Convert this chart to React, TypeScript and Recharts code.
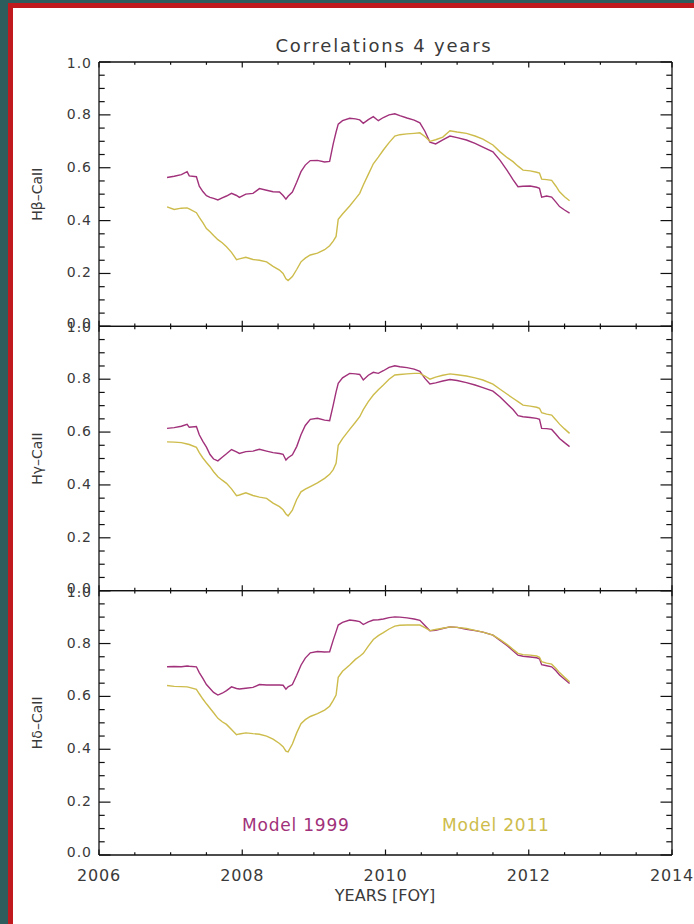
import React from 'react';
import { LineChart, Line, XAxis, YAxis } from 'recharts';

// sampling times (years) shared by all six curves
const years = [
  2006.95, 2007.05, 2007.15, 2007.23, 2007.26, 2007.36, 2007.4, 2007.45, 2007.5, 2007.55,
  2007.6, 2007.66, 2007.72, 2007.78, 2007.85, 2007.92, 2007.96, 2008.05, 2008.15, 2008.24,
  2008.34, 2008.43, 2008.52, 2008.57, 2008.61, 2008.64, 2008.7, 2008.76, 2008.82, 2008.88,
  2008.95, 2009.05, 2009.15, 2009.22, 2009.27, 2009.31, 2009.34, 2009.4, 2009.5, 2009.58,
  2009.64, 2009.69, 2009.76, 2009.83, 2009.9, 2009.97, 2010.05, 2010.13, 2010.2, 2010.3,
  2010.4, 2010.48, 2010.55, 2010.62, 2010.7, 2010.8, 2010.9, 2011.0, 2011.13, 2011.25,
  2011.36, 2011.5, 2011.6, 2011.7, 2011.78, 2011.85, 2011.92, 2012.02, 2012.11, 2012.15,
  2012.18, 2012.25, 2012.32, 2012.38, 2012.43, 2012.5, 2012.57,
];

const hbeta1999 = [
  0.563, 0.568, 0.574, 0.585, 0.569, 0.566, 0.53, 0.51, 0.494, 0.488,
  0.484, 0.478, 0.486, 0.493, 0.503, 0.495, 0.488, 0.5, 0.503, 0.521,
  0.515, 0.509, 0.508, 0.495, 0.481, 0.492, 0.508, 0.545, 0.585, 0.61,
  0.627, 0.628, 0.622, 0.624, 0.69, 0.735, 0.765, 0.778, 0.787, 0.785,
  0.781, 0.768, 0.782, 0.793, 0.778, 0.79, 0.8, 0.804, 0.797, 0.788,
  0.78, 0.77, 0.738, 0.697, 0.69, 0.705, 0.72, 0.714, 0.705, 0.692,
  0.678, 0.66, 0.628, 0.589, 0.555, 0.528, 0.53, 0.531, 0.526, 0.522,
  0.489, 0.493, 0.489, 0.47, 0.453, 0.44, 0.428,
];
const hbeta2011 = [
  0.452, 0.442, 0.447, 0.448, 0.444, 0.43, 0.412, 0.392, 0.37, 0.358,
  0.344, 0.328, 0.316, 0.301, 0.28, 0.252, 0.255, 0.261, 0.253, 0.25,
  0.244, 0.227, 0.213, 0.2, 0.18, 0.173, 0.188, 0.215, 0.244, 0.258,
  0.27, 0.277, 0.29, 0.305, 0.322, 0.34, 0.405, 0.425, 0.455, 0.482,
  0.503, 0.535, 0.575, 0.615, 0.64, 0.667, 0.695, 0.72, 0.725, 0.728,
  0.73, 0.732, 0.718, 0.7, 0.706, 0.716, 0.74, 0.735, 0.73, 0.72,
  0.708, 0.686, 0.66, 0.638, 0.623, 0.606, 0.591, 0.588, 0.583, 0.58,
  0.557, 0.555, 0.552, 0.53, 0.509, 0.49, 0.475,
];
const hgamma1999 = [
  0.614, 0.617, 0.622, 0.629, 0.618, 0.621, 0.59, 0.565, 0.543, 0.515,
  0.498, 0.491, 0.505, 0.518, 0.534, 0.525, 0.519, 0.526, 0.528, 0.535,
  0.528, 0.522, 0.519, 0.516, 0.494, 0.503, 0.514, 0.545, 0.59, 0.625,
  0.648, 0.652, 0.645, 0.643, 0.702, 0.752, 0.784, 0.805, 0.822, 0.82,
  0.818, 0.797, 0.815, 0.826, 0.822, 0.832, 0.845, 0.851, 0.847, 0.844,
  0.838, 0.83, 0.803, 0.782, 0.786, 0.793, 0.799, 0.795, 0.787, 0.778,
  0.768, 0.755, 0.733, 0.706, 0.685, 0.662, 0.658, 0.655, 0.652, 0.648,
  0.614, 0.613, 0.61, 0.592, 0.576, 0.56, 0.545,
];
const hgamma2011 = [
  0.563, 0.562, 0.56, 0.555, 0.553, 0.542, 0.522, 0.502, 0.485, 0.469,
  0.45, 0.431, 0.418, 0.406, 0.385, 0.359, 0.362, 0.37, 0.36, 0.354,
  0.349, 0.331, 0.318, 0.306, 0.29, 0.283, 0.305, 0.345, 0.374, 0.384,
  0.394, 0.408, 0.425, 0.44, 0.458, 0.482, 0.55, 0.575, 0.61, 0.637,
  0.658, 0.685, 0.715, 0.74, 0.76, 0.778, 0.8, 0.816, 0.818, 0.82,
  0.822, 0.822, 0.812, 0.8, 0.808, 0.815, 0.82, 0.817, 0.812, 0.805,
  0.797, 0.781, 0.762, 0.743, 0.728, 0.715, 0.702, 0.698, 0.694, 0.69,
  0.673, 0.668, 0.664, 0.646, 0.63, 0.612, 0.595,
];
const hdelta1999 = [
  0.712, 0.713, 0.712, 0.715, 0.714, 0.712, 0.69, 0.668, 0.645, 0.63,
  0.615, 0.605, 0.612, 0.622, 0.636, 0.63, 0.628, 0.631, 0.634, 0.645,
  0.643, 0.643, 0.643, 0.642, 0.627, 0.636, 0.645, 0.68, 0.718, 0.745,
  0.765, 0.77, 0.768, 0.769, 0.813, 0.845, 0.87, 0.88, 0.889, 0.886,
  0.883, 0.872, 0.882, 0.889, 0.89, 0.893, 0.898, 0.901, 0.9, 0.897,
  0.893, 0.888, 0.868, 0.848, 0.85, 0.857, 0.863, 0.861, 0.854, 0.849,
  0.843, 0.832, 0.812, 0.792, 0.773, 0.756, 0.752, 0.749, 0.746, 0.742,
  0.72, 0.716, 0.712, 0.697, 0.681, 0.665, 0.649,
];
const hdelta2011 = [
  0.641, 0.638, 0.637, 0.636, 0.634, 0.627, 0.61, 0.59, 0.572, 0.555,
  0.538, 0.517, 0.504, 0.494, 0.475, 0.455, 0.458, 0.462, 0.459, 0.457,
  0.45, 0.438, 0.422, 0.41, 0.393, 0.39, 0.42, 0.462, 0.497, 0.512,
  0.524, 0.535, 0.548, 0.563, 0.585, 0.605, 0.672, 0.695, 0.719, 0.74,
  0.752, 0.763, 0.79, 0.815, 0.83, 0.841, 0.855, 0.866, 0.869, 0.87,
  0.87, 0.87, 0.86, 0.849, 0.853, 0.858, 0.863, 0.861, 0.857, 0.85,
  0.843, 0.832, 0.815, 0.796, 0.778, 0.763, 0.758, 0.756, 0.753, 0.748,
  0.731, 0.726, 0.722, 0.706, 0.69, 0.672, 0.655,
];

const xTicks = [
  2006, 2006.5, 2007, 2007.5, 2008, 2008.5, 2009, 2009.5, 2010,
  2010.5, 2011, 2011.5, 2012, 2012.5, 2013, 2013.5, 2014,
];
const xMajor = [2006, 2008, 2010, 2012, 2014];
const yTicks = [
  0, 0.05, 0.1, 0.15, 0.2, 0.25, 0.3, 0.35, 0.4, 0.45, 0.5,
  0.55, 0.6, 0.65, 0.7, 0.75, 0.8, 0.85, 0.9, 0.95, 1,
];
const yMajor = [0, 0.2, 0.4, 0.6, 0.8, 1];

const panelLabels = ['H\u03b2\u2013CaII', 'H\u03b3\u2013CaII', 'H\u03b4\u2013CaII'];
const seriesNames = ['Model 1999', 'Model 2011'];

const C1999 = '#a0317a';
const C2011 = '#cdbc4c';
const AXIS = '#111';
const TEXT = '#3a3a3a';
const FONT = '"DejaVu Sans", sans-serif';

const W = 694;
const H = 924;
const PLOT_LEFT = 99;
const PLOT_RIGHT = 672;
const PLOT_TOP = 62;
const PLOT_BOTTOM = 855;
const AXIS_H = 20;

const isMajor = (list: number[], v: number) => list.some((m) => Math.abs(m - v) < 1e-6);

function xTick(side: 'top' | 'bottom', labels: boolean) {
  return (props: any) => {
    const { x, y, payload } = props;
    const major = isMajor(xMajor, payload.value);
    const len = major ? 5.5 : 2.8;
    const dir = side === 'bottom' ? -1 : 1;
    return (
      <g>
        <line x1={x} y1={y} x2={x} y2={y + dir * len} stroke={AXIS} strokeWidth={1.2} />
        {labels && major && (
          <text
            x={x}
            y={y + 20}
            textAnchor="middle"
            dominantBaseline="central"
            fontFamily={FONT}
            fontSize={16}
            letterSpacing={0.8}
            fill={TEXT}
          >
            {payload.value}
          </text>
        )}
      </g>
    );
  };
}

function yTick(side: 'left' | 'right', labels: boolean) {
  return (props: any) => {
    const { x, y, payload } = props;
    const v = payload.value;
    const major = isMajor(yMajor, v);
    const len = major ? 11.5 : 5.7;
    const dir = side === 'left' ? 1 : -1;
    const shift = v > 0.99 ? 1 : v < 0.01 ? -3 : -1;
    return (
      <g>
        <line x1={x} y1={y} x2={x + dir * len} y2={y} stroke={AXIS} strokeWidth={1.2} />
        {labels && major && (
          <text
            x={x - 7}
            y={y + shift}
            textAnchor="end"
            dominantBaseline="central"
            fontFamily={FONT}
            fontSize={14}
            letterSpacing={1}
            fill={TEXT}
          >
            {v.toFixed(1)}
          </text>
        )}
      </g>
    );
  };
}

const panelH = (PLOT_BOTTOM - PLOT_TOP) / 3;
const panels = [
  { label: panelLabels[0], a: hbeta1999, b: hbeta2011 },
  { label: panelLabels[1], a: hgamma1999, b: hgamma2011 },
  { label: panelLabels[2], a: hdelta1999, b: hdelta2011 },
];

function Panel({ index, a, b }: { index: number; a: number[]; b: number[] }) {
  const top = PLOT_TOP + index * panelH;
  const bottom = top + panelH;
  const rows = years.map((year, i) => ({ year, m1999: a[i], m2011: b[i] }));
  const last = index === panels.length - 1;
  const axisLine = { stroke: AXIS, strokeWidth: 1.3 };
  return (
    <div style={{ position: 'absolute', left: 0, top: 0 }}>
      <LineChart
        width={W}
        height={H}
        data={rows}
        margin={{ top: top - AXIS_H, bottom: H - bottom - AXIS_H, left: 0, right: 0 }}
      >
        <XAxis
          type="number"
          dataKey="year"
          domain={[2006, 2014]}
          allowDataOverflow
          ticks={xTicks}
          interval={0}
          height={AXIS_H}
          tickSize={0}
          tickMargin={0}
          tickLine={false}
          axisLine={axisLine}
          tick={xTick('bottom', last)}
        />
        <XAxis
          xAxisId="top"
          orientation="top"
          type="number"
          dataKey="year"
          domain={[2006, 2014]}
          allowDataOverflow
          ticks={xTicks}
          interval={0}
          height={AXIS_H}
          tickSize={0}
          tickMargin={0}
          tickLine={false}
          axisLine={axisLine}
          tick={xTick('top', false)}
        />
        <YAxis
          type="number"
          domain={[0, 1]}
          allowDataOverflow
          ticks={yTicks}
          interval={0}
          width={PLOT_LEFT}
          tickSize={0}
          tickMargin={0}
          tickLine={false}
          axisLine={axisLine}
          tick={yTick('left', true)}
        />
        <YAxis
          yAxisId="right"
          orientation="right"
          type="number"
          domain={[0, 1]}
          allowDataOverflow
          ticks={yTicks}
          interval={0}
          width={W - PLOT_RIGHT}
          tickSize={0}
          tickMargin={0}
          tickLine={false}
          axisLine={axisLine}
          tick={yTick('right', false)}
        />
        <Line
          type="linear"
          dataKey="m1999"
          name={seriesNames[0]}
          stroke={C1999}
          strokeWidth={1.4}
          dot={false}
          isAnimationActive={false}
        />
        <Line
          type="linear"
          dataKey="m2011"
          name={seriesNames[1]}
          stroke={C2011}
          strokeWidth={1.4}
          dot={false}
          isAnimationActive={false}
        />
      </LineChart>
    </div>
  );
}

export default function App() {
  return (
    <div
      style={{
        position: 'absolute',
        left: 0,
        top: 0,
        width: W,
        height: H,
        background: '#2d5e5d',
        overflow: 'hidden',
      }}
    >
      <div
        style={{
          position: 'absolute',
          left: 8,
          top: 3,
          width: W,
          height: H + 20,
          border: '5px solid #c01a1f',
          background: '#fff',
        }}
      />
      {panels.map((p, i) => (
        <Panel key={p.label} index={i} a={p.a} b={p.b} />
      ))}
      <svg
        width={W}
        height={H}
        style={{ position: 'absolute', left: 0, top: 0, pointerEvents: 'none' }}
        fontFamily={FONT}
      >
        <text x={384} y={45} textAnchor="middle" dominantBaseline="central" fontSize={18} letterSpacing={1.8} fill={TEXT}>
          Correlations 4 years
        </text>
        {panels.map((p, i) => {
          const cy = PLOT_TOP + (i + 0.5) * panelH;
          return (
            <text
              key={p.label}
              x={37}
              y={cy}
              transform={`rotate(-90 37 ${cy})`}
              textAnchor="middle"
              dominantBaseline="central"
              fontSize={14}
              fill={TEXT}
            >
              {p.label}
            </text>
          );
        })}
        <text x={242} y={831} fontSize={17} letterSpacing={0.8} fill={C1999}>
          {seriesNames[0]}
        </text>
        <text x={442} y={831} fontSize={17} letterSpacing={0.8} fill={C2011}>
          {seriesNames[1]}
        </text>
        <text x={385} y={895} textAnchor="middle" dominantBaseline="central" fontSize={16} fill={TEXT}>
          YEARS [FOY]
        </text>
      </svg>
    </div>
  );
}
